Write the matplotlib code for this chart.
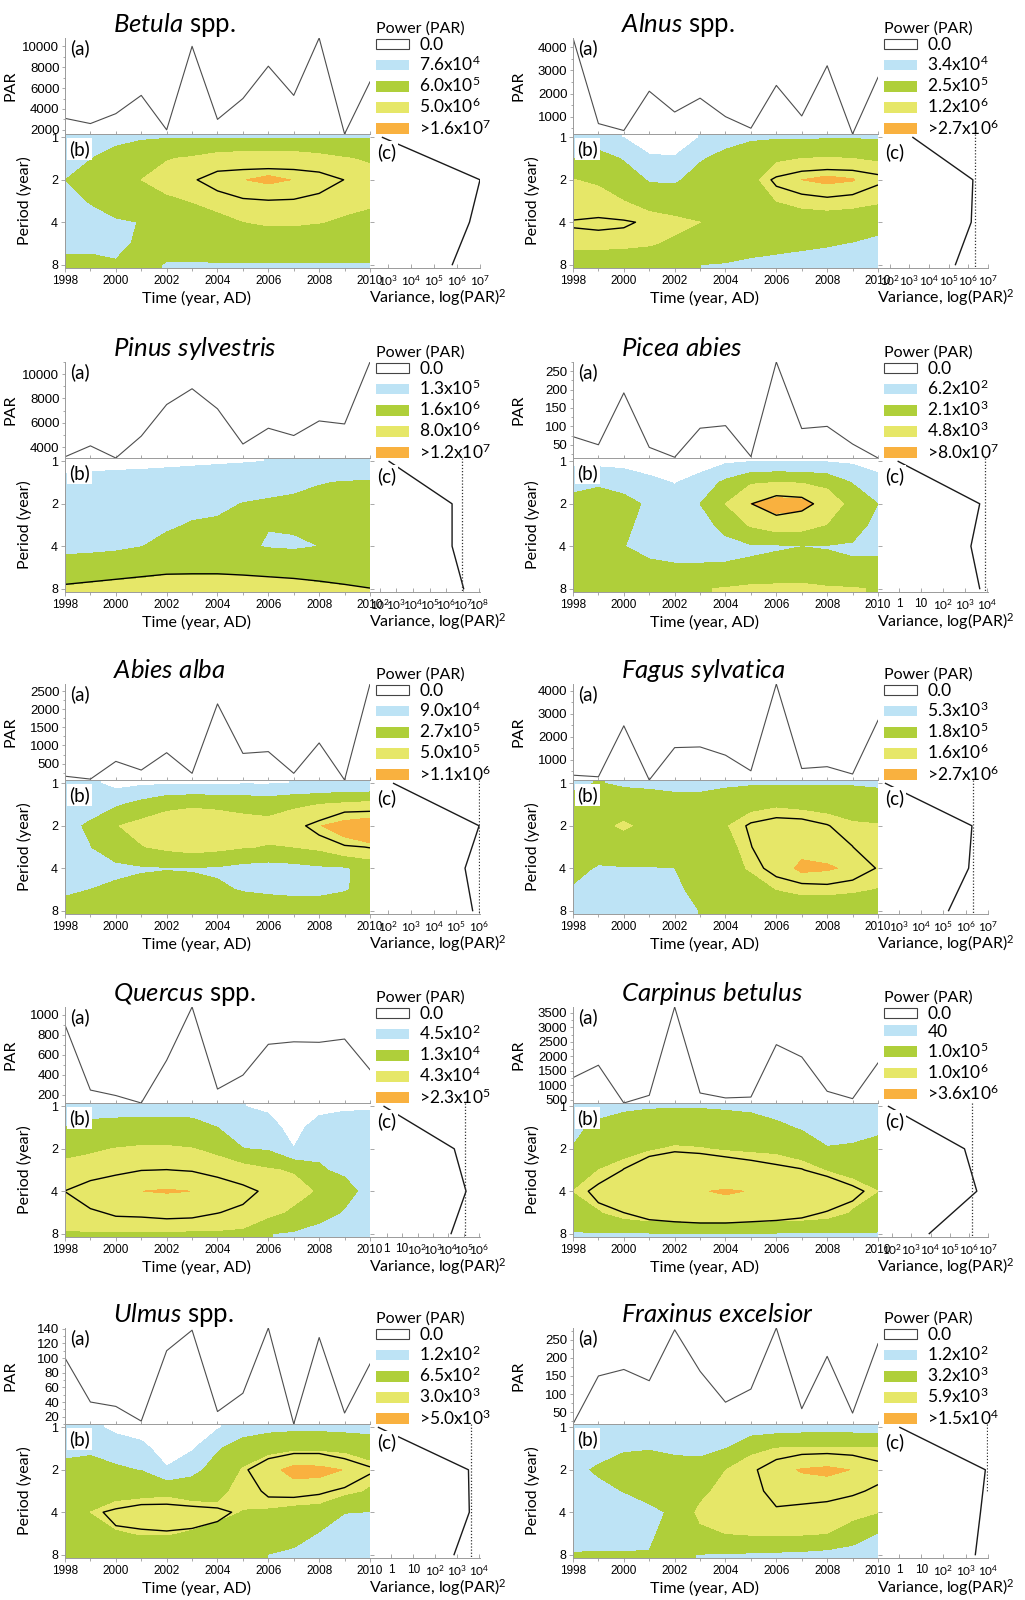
import numpy as np
import matplotlib.pyplot as plt
from matplotlib.patches import Patch
from matplotlib.ticker import AutoMinorLocator, NullFormatter

plt.rcParams['font.family'] = ['Lato', 'DejaVu Sans']
plt.rcParams['mathtext.fontset'] = 'custom'
plt.rcParams['mathtext.rm'] = 'Lato'
plt.rcParams['mathtext.it'] = 'Lato:italic'
plt.rcParams['mathtext.bf'] = 'Lato:bold'

years = np.arange(1998, 2011)
periods = [1, 1.41, 2, 2.83, 4, 5.66, 8]   # rows of the power grids
var_periods = [1, 2, 4, 8]                 # periods of the global variance curve

BLUE, GREEN, YELLOW, ORANGE = '#bde3f5', '#afcf3a', '#e6e768', '#f9b13f'

# ---------------- Betula ----------------
betula_par = [3100, 2600, 3550, 5300, 2000, 10000, 3000, 5000, 8100, 5300, 10800, 1600, 6600]
betula_power = [  # one list per year, values at periods 1..8 (level units)
    [1.5, 1.8, 1.99, 1.7, 1.6, 1.8, 2.2],
    [1.5, 1.97, 2.4, 2.05, 1.7, 1.85, 2.15],
    [1.7, 2.4, 2.7, 2.4, 1.9, 1.85, 2.05],
    [1.9, 2.6, 3.0, 2.6, 2.02, 2.1, 2.2],
    [1.95, 2.95, 3.3, 2.85, 2.5, 2.3, 1.95],
    [1.95, 3.1, 3.5, 3.02, 2.6, 2.3, 1.95],
    [1.95, 3.4, 3.75, 3.3, 2.7, 2.4, 1.95],
    [1.95, 3.5, 3.98, 3.45, 2.98, 2.5, 1.95],
    [1.95, 3.5, 4.12, 3.5, 3.1, 2.5, 1.95],
    [1.95, 3.5, 3.98, 3.55, 3.1, 2.5, 1.95],
    [1.95, 3.3, 3.75, 3.4, 3.02, 2.5, 1.95],
    [1.95, 3.05, 3.5, 3.2, 2.9, 2.5, 1.95],
    [1.95, 2.9, 3.3, 3.1, 2.8, 2.5, 1.95]]
betula_sig = [
    [0, 0, 0, 0, 0, 0, 0], [0, 0, 0, 0, 0, 0, 0], [0, 0, 0, 0, 0, 0, 0],
    [0, 0, 0, 0, 0, 0, 0], [0, 0, 0, 0, 0, 0, 0],
    [0, 0, 0.875, 0, 0, 0, 0],
    [0, 0.25, 1.5, 0.54, 0, 0, 0],
    [0, 0.13, 1.8, 0.89, 0, 0, 0],
    [0, 0.08, 2.0, 0.96, 0, 0, 0],
    [0, 0.03, 1.9, 0.92, 0, 0, 0],
    [0, 0.11, 1.5, 0.72, 0, 0, 0],
    [0, 0, 0.98, 0, 0, 0, 0],
    [0, 0, 0, 0, 0, 0, 0]]
betula_var = [590, 1.0e7, 3.5e6, 6.3e5]

# ---------------- Alnus ----------------
alnus_par = [4400, 700, 400, 2100, 1200, 1800, 1000, 500, 2350, 1030, 3200, 250, 2700]
alnus_power = [
    [1.5, 1.97, 3.02, 3.3, 3.6, 3.2, 2.5],
    [1.2, 2.5, 2.85, 3.35, 3.6, 3.2, 2.5],
    [0.98, 1.9, 2.6, 3.0, 3.4, 3.15, 2.5],
    [0.6, 1.1, 1.9, 2.7, 3.3, 3.05, 2.6],
    [0.6, 1.05, 1.85, 2.6, 3.15, 2.9, 2.02],
    [1.02, 1.9, 2.4, 2.7, 3.0, 2.6, 2.0],
    [1.6, 2.3, 2.6, 2.7, 2.8, 2.5, 1.95],
    [1.85, 2.6, 2.9, 2.8, 2.7, 2.4, 1.8],
    [1.9, 2.95, 3.2, 3.0, 2.7, 2.3, 1.7],
    [1.9, 3.0, 4.0, 3.1, 2.8, 2.2, 1.6],
    [1.92, 3.05, 4.2, 3.15, 2.8, 2.1, 1.5],
    [1.92, 3.0, 4.05, 3.15, 2.7, 1.95, 1.4],
    [1.92, 2.9, 3.5, 3.1, 2.3, 1.8, 1.3]]
alnus_sig = [
    [0, 0, 0, 0, 1.11, 0.69, 0],
    [0, 0, 0, 0, 1.28, 0.54, 0],
    [0, 0, 0, 0, 1.11, 0.69, 0],
    [0, 0, 0, 0, 0.87, 0, 0],
    [0, 0, 0, 0, 0, 0, 0], [0, 0, 0, 0, 0, 0, 0], [0, 0, 0, 0, 0, 0, 0],
    [0, 0, 0.4, 0, 0, 0, 0],
    [0, 0, 1.16, 0.63, 0, 0, 0],
    [0, 0, 1.67, 0.68, 0, 0, 0],
    [0, 0, 1.92, 0.8, 0, 0, 0],
    [0, 0, 1.79, 0.66, 0, 0, 0],
    [0, 0, 1.32, 0, 0, 0, 0]]
alnus_var = [1.5e3, 1.7e6, 1.4e6, 2.2e5]

# ---------------- Pinus sylvestris ----------------
pinus_par = [3200, 4100, 3100, 4900, 7500, 8800, 7150, 4250, 5550, 4950, 6150, 5900, 11000]
pinus_power = [
    [0.6, 1.3, 1.5, 1.6, 1.8, 2.3, 3.1],
    [0.65, 1.35, 1.5, 1.65, 1.8, 2.4, 3.2],
    [0.7, 1.4, 1.55, 1.7, 1.85, 2.5, 3.3],
    [0.75, 1.4, 1.6, 1.8, 1.98, 2.55, 3.4],
    [0.8, 1.45, 1.7, 1.9, 2.2, 2.7, 3.5],
    [0.85, 1.5, 1.8, 2.05, 2.3, 2.7, 3.5],
    [0.9, 1.55, 1.85, 2.1, 2.4, 2.7, 3.5],
    [0.95, 1.6, 2.02, 2.3, 2.1, 2.7, 3.5],
    [1.01, 1.7, 2.1, 2.02, 1.95, 2.6, 3.5],
    [1.01, 1.75, 2.2, 2.08, 1.9, 2.55, 3.4],
    [1.05, 1.95, 2.3, 2.2, 2.0, 2.45, 3.2],
    [1.05, 2.05, 2.4, 2.3, 2.2, 2.4, 3.1],
    [1.1, 2.1, 2.5, 2.4, 2.3, 2.4, 3.0]]
pinus_sig = [
    [0, 0, 0, 0, 0, 0.8, 1.05],
    [0, 0, 0, 0, 0, 0.8, 1.094],
    [0, 0, 0, 0, 0, 0.8, 1.157],
    [0, 0, 0, 0, 0, 0.8, 1.255],
    [0, 0, 0, 0, 0, 0.8, 1.425],
    [0, 0, 0, 0, 0, 0.8, 1.467],
    [0, 0, 0, 0, 0, 0.8, 1.467],
    [0, 0, 0, 0, 0, 0.8, 1.356],
    [0, 0, 0, 0, 0, 0.8, 1.255],
    [0, 0, 0, 0, 0, 0.8, 1.185],
    [0, 0, 0, 0, 0, 0.8, 1.11],
    [0, 0, 0, 0, 0, 0.8, 1.05],
    [0, 0, 0, 0, 0, 0.8, 1.005]]
pinus_var = [360, 2.3e6, 2.3e6, 1.15e7]

# ---------------- Picea abies ----------------
picea_par = [72, 50, 191, 43, 16, 95, 102, 18, 275, 94, 100, 52, 14]
picea_power = [
    [0.8, 1.6, 2.4, 2.6, 2.6, 2.6, 2.6],
    [0.7, 1.85, 2.5, 2.6, 2.6, 2.6, 2.6],
    [0.6, 1.75, 2.2, 2.15, 2.02, 2.3, 2.6],
    [0.4, 1.3, 1.9, 1.74, 1.7, 2.2, 2.6],
    [0.2, 0.95, 1.5, 1.5, 1.6, 2.1, 2.5],
    [0.5, 1.4, 2.0, 1.6, 1.6, 2.1, 2.95],
    [0.85, 2.2, 3.0, 2.3, 1.7, 2.1, 3.05],
    [0.98, 2.9, 4.0, 3.1, 1.9, 2.1, 3.2],
    [1.0, 3.0, 4.4, 3.5, 1.9, 2.3, 3.2],
    [1.0, 2.95, 4.3, 3.4, 1.99, 2.4, 3.2],
    [0.95, 2.7, 3.65, 2.95, 1.96, 2.2, 3.1],
    [0.85, 1.95, 2.63, 2.4, 1.9, 2.1, 3.05],
    [0.4, 1.5, 2.0, 1.7, 1.8, 2.2, 2.95]]
picea_sig = [
    [0, 0, 0, 0, 0, 0, 0], [0, 0, 0, 0, 0, 0, 0], [0, 0, 0, 0, 0, 0, 0],
    [0, 0, 0, 0, 0, 0, 0], [0, 0, 0, 0, 0, 0, 0], [0, 0, 0, 0, 0, 0, 0],
    [0, 0, 0, 0, 0, 0, 0],
    [0, 0, 0.98, 0, 0, 0, 0],
    [0, 0, 1.61, 0.48, 0, 0, 0],
    [0, 0, 1.43, 0.17, 0, 0, 0],
    [0, 0, 0.5, 0, 0, 0, 0],
    [0, 0, 0, 0, 0, 0, 0], [0, 0, 0, 0, 0, 0, 0]]
picea_var = [0.9, 4.8e3, 1.9e3, 4.8e3]

# ---------------- Abies alba ----------------
abies_par = [150, 70, 560, 320, 800, 230, 2150, 780, 830, 230, 1070, 45, 2700]
abies_power = [
    [1.3, 1.6, 1.8, 1.7, 1.7, 1.85, 2.3],
    [1.2, 1.7, 2.1, 1.98, 1.7, 2.0, 2.3],
    [0.7, 1.85, 2.95, 2.5, 1.8, 2.15, 2.4],
    [0.85, 2.3, 3.3, 2.95, 1.9, 2.3, 2.5],
    [0.9, 2.8, 3.4, 3.2, 1.95, 2.4, 2.5],
    [0.92, 2.9, 3.45, 3.4, 1.95, 2.2, 2.45],
    [0.92, 2.85, 3.4, 3.25, 1.9, 2.1, 2.4],
    [0.95, 2.75, 3.3, 3.05, 1.7, 1.95, 2.4],
    [0.95, 2.6, 3.3, 2.95, 1.6, 1.9, 2.3],
    [1.01, 2.85, 3.5, 3.0, 1.7, 1.85, 2.3],
    [1.05, 3.0, 3.97, 3.2, 1.85, 1.85, 2.3],
    [1.15, 3.15, 4.27, 3.75, 1.9, 1.95, 2.4],
    [1.1, 3.3, 4.4, 3.9, 2.3, 2.2, 2.5]]
abies_sig = [
    [0, 0, 0, 0, 0, 0, 0], [0, 0, 0, 0, 0, 0, 0], [0, 0, 0, 0, 0, 0, 0],
    [0, 0, 0, 0, 0, 0, 0], [0, 0, 0, 0, 0, 0, 0], [0, 0, 0, 0, 0, 0, 0],
    [0, 0, 0, 0, 0, 0, 0], [0, 0, 0, 0, 0, 0, 0], [0, 0, 0, 0, 0, 0, 0],
    [0, 0, 0.72, 0, 0, 0, 0],
    [0, 0, 1.32, 0.59, 0, 0, 0],
    [0, 0, 2.78, 0.85, 0, 0, 0],
    [0, 0, 3.1, 1.04, 0, 0, 0]]
abies_var = [170, 1.0e6, 2.4e5, 5.2e5]

# ---------------- Fagus sylvatica ----------------
fagus_par = [330, 260, 2480, 120, 1530, 1560, 1200, 520, 4300, 620, 700, 380, 2720]
fagus_power = [
    [1.8, 2.3, 2.5, 2.5, 2.3, 1.9, 1.5],
    [2.05, 2.4, 2.8, 2.5, 1.9, 1.7, 1.5],
    [1.85, 2.6, 3.1, 2.6, 1.95, 1.7, 1.5],
    [1.8, 2.5, 2.8, 2.6, 1.95, 1.7, 1.5],
    [1.7, 2.4, 2.7, 2.6, 1.99, 1.8, 1.6],
    [1.7, 2.4, 2.75, 2.7, 2.5, 2.3, 2.02],
    [1.85, 2.5, 2.95, 2.8, 2.6, 2.4, 2.1],
    [1.9, 2.8, 3.33, 3.2, 3.1, 2.5, 2.1],
    [1.92, 2.9, 3.5, 3.6, 3.5, 3.0, 2.3],
    [1.92, 2.85, 3.4, 3.7, 4.2, 3.2, 2.4],
    [1.92, 2.75, 3.3, 3.6, 4.1, 3.2, 2.4],
    [1.92, 2.6, 3.1, 3.5, 3.85, 3.1, 2.4],
    [1.85, 2.5, 3.05, 3.3, 3.5, 2.95, 2.3]]
fagus_sig = [
    [0, 0, 0, 0, 0, 0, 0], [0, 0, 0, 0, 0, 0, 0], [0, 0, 0, 0, 0, 0, 0],
    [0, 0, 0, 0, 0, 0, 0], [0, 0, 0, 0, 0, 0, 0], [0, 0, 0, 0, 0, 0, 0],
    [0, 0, 0.36, 0, 0, 0, 0],
    [0, 0, 1.16, 0.965, 0.33, 0, 0],
    [0, 0, 1.61, 1.8, 1.67, 0, 0],
    [0, 0, 1.47, 1.7, 1.8, 0.69, 0],
    [0, 0, 1.06, 1.6, 1.8, 0.75, 0],
    [0, 0, 0.5, 1.02, 1.64, 0.5, 0],
    [0, 0, 0, 0, 0.93, 0, 0]]
fagus_var = [250, 1.9e6, 1.35e6, 1.7e5]

# ---------------- Quercus ----------------
quercus_par = [900, 245, 190, 115, 545, 1080, 255, 395, 705, 730, 725, 758, 450]
quercus_power = [
    [1.4, 2.0, 2.8, 3.2, 3.7, 3.3, 2.95],
    [1.5, 2.3, 2.9, 3.3, 3.75, 3.4, 2.95],
    [1.5, 2.4, 3.02, 3.4, 3.8, 3.4, 2.95],
    [1.5, 2.45, 3.1, 3.45, 3.995, 3.45, 2.95],
    [1.5, 2.45, 3.1, 3.5, 4.05, 3.5, 2.95],
    [1.5, 2.4, 3.02, 3.45, 3.995, 3.45, 2.93],
    [1.4, 2.0, 2.85, 3.3, 3.8, 3.4, 2.93],
    [1.02, 1.5, 2.02, 3.4, 3.7, 3.3, 2.9],
    [0.8, 1.4, 1.9, 3.1, 3.5, 3.3, 2.02],
    [0.3, 0.6, 1.02, 2.9, 3.4, 2.8, 1.9],
    [0.6, 1.5, 1.8, 2.1, 2.87, 2.5, 1.5],
    [0.85, 1.5, 1.7, 1.8, 2.4, 1.9, 1.4],
    [0.9, 1.4, 1.5, 1.5, 1.6, 1.4, 1.3]]
quercus_sig = [
    [0, 0, 0, 0, 1.02, 0, 0],
    [0, 0, 0, 0, 2.0, 0.78, 0],
    [0, 0, 0, 0.684, 2.0, 1.22, 0],
    [0, 0, 0, 0.976, 2.2, 1.28, 0],
    [0, 0, 0, 1.02, 2.3, 1.43, 0],
    [0, 0, 0, 0.923, 2.2, 1.35, 0],
    [0, 0, 0, 0.485, 2.0, 1.04, 0],
    [0, 0, 0, 0, 1.43, 0.74, 0],
    [0, 0, 0, 0, 0.71, 0, 0],
    [0, 0, 0, 0, 0, 0, 0], [0, 0, 0, 0, 0, 0, 0], [0, 0, 0, 0, 0, 0, 0],
    [0, 0, 0, 0, 0, 0, 0]]
quercus_var = [0.68, 2.4e4, 1.4e5, 1.5e4]

# ---------------- Carpinus betulus ----------------
carpinus_par = [1260, 1690, 385, 650, 3700, 730, 560, 590, 2400, 1975, 790, 535, 1770]
carpinus_power = [
    [1.4, 1.7, 2.05, 2.5, 3.0, 2.5, 1.95],
    [1.5, 2.3, 2.6, 3.0, 3.5, 2.9, 1.95],
    [1.8, 2.5, 2.8, 3.2, 3.6, 3.4, 1.95],
    [1.9, 2.65, 2.95, 3.4, 3.8, 3.7, 1.95],
    [1.92, 2.7, 3.05, 3.5, 3.9, 3.7, 1.95],
    [1.92, 2.7, 3.02, 3.5, 3.97, 3.75, 1.95],
    [1.85, 2.65, 2.95, 3.5, 4.05, 3.75, 1.95],
    [1.75, 2.55, 2.9, 3.45, 3.98, 3.75, 1.95],
    [1.6, 2.2, 2.85, 3.4, 3.9, 3.7, 1.95],
    [1.4, 1.9, 2.6, 3.3, 3.8, 3.6, 1.95],
    [1.3, 1.6, 2.05, 2.95, 3.7, 3.4, 1.95],
    [1.3, 1.7, 2.1, 2.7, 3.4, 2.9, 1.95],
    [1.4, 1.8, 2.3, 2.6, 3.0, 2.6, 1.95]]
carpinus_sig = [
    [0, 0, 0, 0, 0.22, 0, 0],
    [0, 0, 0, 0, 1.52, 0.56, 0],
    [0, 0, 0, 1.06, 2.0, 1.01, 0],
    [0, 0, 0, 2.78, 2.0, 1.52, 0],
    [0, 0, 0.756, 2.5, 2.0, 1.79, 0],
    [0, 0, 0.577, 2.5, 2.0, 2.0, 0],
    [0, 0, 0.08, 2.5, 2.0, 2.0, 0],
    [0, 0, 0, 1.85, 2.0, 1.79, 0],
    [0, 0, 0, 1.35, 2.0, 1.61, 0],
    [0, 0, 0, 1.06, 2.0, 1.35, 0],
    [0, 0, 0, 0.5, 2.17, 0.925, 0],
    [0, 0, 0, 0, 1.35, 0.59, 0],
    [0, 0, 0, 0, 0.57, 0, 0]]
carpinus_var = [63, 5.9e5, 2.6e6, 8.5e3]

# ---------------- Ulmus ----------------
ulmus_par = [100, 40, 34, 14, 110, 138, 27, 52, 141, 10, 128, 25, 92]
ulmus_power = [
    [1.4, 1.8, 2.2, 2.4, 2.6, 2.5, 2.3],
    [1.3, 1.85, 2.3, 2.6, 3.0, 2.7, 2.3],
    [0.7, 1.7, 2.1, 2.6, 3.4, 2.9, 2.3],
    [0.5, 1.3, 1.97, 2.7, 3.5, 3.05, 2.3],
    [0.2, 0.5, 1.1, 2.8, 3.5, 3.05, 2.3],
    [0.4, 0.9, 1.7, 2.6, 3.4, 2.9, 2.3],
    [0.9, 1.9, 2.4, 2.75, 3.2, 2.7, 2.3],
    [1.5, 2.5, 3.05, 3.3, 2.95, 2.6, 2.2],
    [1.75, 2.65, 3.7, 3.4, 2.9, 2.4, 1.99],
    [1.8, 2.8, 4.3, 3.6, 2.7, 2.4, 1.8],
    [1.8, 2.8, 4.25, 3.55, 2.6, 1.95, 1.5],
    [1.75, 2.7, 3.97, 3.2, 2.02, 1.6, 1.4],
    [1.7, 2.55, 3.3, 2.9, 1.98, 1.5, 1.3]]
ulmus_sig = [
    [0, 0, 0, 0, 0, 0, 0],
    [0, 0, 0, 0, 0.81, 0, 0],
    [0, 0, 0, 0, 1.19, 0.89, 0],
    [0, 0, 0, 0, 1.56, 0.86, 0],
    [0, 0, 0, 0, 1.61, 0.92, 0],
    [0, 0, 0, 0, 1.39, 0.88, 0],
    [0, 0, 0, 0, 1.25, 0.68, 0],
    [0, 0, 0.73, 0, 0.80, 0, 0],
    [0, 0, 2.08, 1.39, 0, 0, 0],
    [0, 0.53, 2.5, 1.43, 0, 0, 0],
    [0, 0.53, 2.5, 1.19, 0, 0, 0],
    [0, 0, 2.08, 0.79, 0, 0, 0],
    [0, 0, 1.16, 0.36, 0, 0, 0]]
ulmus_var = [0.26, 3.2e3, 3.5e3, 710]

# ---------------- Fraxinus excelsior ----------------
fraxinus_par = [18, 150, 168, 137, 277, 163, 78, 114, 282, 60, 204, 48, 239]
fraxinus_power = [
    [1.5, 1.6, 1.8, 1.6, 1.5, 1.6, 2.05],
    [1.5, 1.7, 2.1, 1.8, 1.6, 1.7, 2.05],
    [1.5, 1.9, 2.4, 2.02, 1.6, 1.7, 2.05],
    [1.5, 1.95, 2.5, 2.3, 1.8, 1.8, 2.05],
    [1.5, 1.85, 2.3, 2.3, 2.13, 2.51, 2.1],
    [1.5, 1.8, 2.3, 2.7, 3.22, 2.8, 1.98],
    [1.6, 1.98, 2.98, 3.4, 3.5, 3.0, 1.95],
    [1.5, 2.7, 3.6, 3.6, 3.6, 3.1, 1.9],
    [1.55, 3.02, 3.8, 3.7, 3.6, 3.15, 1.85],
    [1.6, 3.1, 4.05, 3.7, 3.5, 3.1, 1.8],
    [1.6, 3.1, 4.15, 3.65, 3.4, 3.0, 1.7],
    [1.6, 3.1, 3.98, 3.6, 3.3, 2.5, 1.6],
    [1.55, 3.05, 3.6, 3.4, 3.02, 1.98, 1.5]]
fraxinus_sig = [
    [0, 0, 0, 0, 0, 0, 0], [0, 0, 0, 0, 0, 0, 0], [0, 0, 0, 0, 0, 0, 0],
    [0, 0, 0, 0, 0, 0, 0], [0, 0, 0, 0, 0, 0, 0], [0, 0, 0, 0, 0, 0, 0],
    [0, 0, 0, 0, 0, 0, 0],
    [0, 0, 0.69, 0, 0, 0, 0],
    [0, 0, 1.92, 2.0, 0.65, 0, 0],
    [0, 0.53, 2.2, 2.0, 0.39, 0, 0],
    [0, 0.62, 2.2, 2.0, 0, 0, 0],
    [0, 0.435, 2.2, 1.28, 0, 0, 0],
    [0, 0, 1.67, 0.71, 0, 0, 0]]
fraxinus_var = [1.1, 7.6e3, 4.6e3, 2.7e3]

panels = [
    dict(title=r'$\mathit{Betula}$ spp.', par=betula_par, yt=[2000, 4000, 6000, 8000, 10000],
         power=betula_power, sig=betula_sig, var=betula_var, vlim=(2.23, 7.0), vt=[3, 4, 5, 6, 7],
         vsig=None, vsig_t=None,
         leg=['0.0', '7.6x10$^4$', '6.0x10$^5$', '5.0x10$^6$', '>1.6x10$^7$']),
    dict(title=r'$\mathit{Alnus}$ spp.', par=alnus_par, yt=[1000, 2000, 3000, 4000],
         power=alnus_power, sig=alnus_sig, var=alnus_var, vlim=(1.4, 7.0), vt=[2, 3, 4, 5, 6, 7],
         vsig=2.3e6, vsig_t=None,
         leg=['0.0', '3.4x10$^4$', '2.5x10$^5$', '1.2x10$^6$', '>2.7x10$^6$']),
    dict(title=r'$\mathit{Pinus\ sylvestris}$', par=pinus_par, yt=[4000, 6000, 8000, 10000],
         power=pinus_power, sig=pinus_sig, var=pinus_var, vlim=(1.4, 8.05), vt=[2, 3, 4, 5, 6, 7, 8],
         vsig=9.1e6, vsig_t=None,
         leg=['0.0', '1.3x10$^5$', '1.6x10$^6$', '8.0x10$^6$', '>1.2x10$^7$']),
    dict(title=r'$\mathit{Picea\ abies}$', par=picea_par, yt=[50, 100, 150, 200, 250],
         power=picea_power, sig=picea_sig, var=picea_var, vlim=(-0.97, 4.06), vt=[0, 1, 2, 3, 4],
         vsig=8.1e3, vsig_t=None,
         leg=['0.0', '6.2x10$^2$', '2.1x10$^3$', '4.8x10$^3$', '>8.0x10$^7$']),
    dict(title=r'$\mathit{Abies\ alba}$', par=abies_par, yt=[500, 1000, 1500, 2000, 2500],
         power=abies_power, sig=abies_sig, var=abies_var, vlim=(1.19, 6.04), vt=[2, 3, 4, 5, 6],
         vsig=1.0e6, vsig_t=None,
         leg=['0.0', '9.0x10$^4$', '2.7x10$^5$', '5.0x10$^5$', '>1.1x10$^6$']),
    dict(title=r'$\mathit{Fagus\ sylvatica}$', par=fagus_par, yt=[1000, 2000, 3000, 4000],
         power=fagus_power, sig=fagus_sig, var=fagus_var, vlim=(2.06, 7.0), vt=[3, 4, 5, 6, 7],
         vsig=2.1e6, vsig_t=None,
         leg=['0.0', '5.3x10$^3$', '1.8x10$^5$', '1.6x10$^6$', '>2.7x10$^6$']),
    dict(title=r'$\mathit{Quercus}$ spp.', par=quercus_par, yt=[200, 400, 600, 800, 1000],
         power=quercus_power, sig=quercus_sig, var=quercus_var, vlim=(-1.08, 6.05), vt=[0, 1, 2, 3, 4, 5, 6],
         vsig=1.26e5, vsig_t=None,
         leg=['0.0', '4.5x10$^2$', '1.3x10$^4$', '4.3x10$^4$', '>2.3x10$^5$']),
    dict(title=r'$\mathit{Carpinus\ betulus}$', par=carpinus_par, yt=[500, 1000, 1500, 2000, 2500, 3000, 3500],
         power=carpinus_power, sig=carpinus_sig, var=carpinus_var, vlim=(1.25, 7.0), vt=[2, 3, 4, 5, 6, 7],
         vsig=1.5e6, vsig_t=None,
         leg=['0.0', '40', '1.0x10$^5$', '1.0x10$^6$', '>3.6x10$^6$']),
    dict(title=r'$\mathit{Ulmus}$ spp.', par=ulmus_par, yt=[20, 40, 60, 80, 100, 120, 140],
         power=ulmus_power, sig=ulmus_sig, var=ulmus_var, vlim=(-0.97, 4.03), vt=[0, 1, 2, 3, 4],
         vsig=4.2e3, vsig_t=None,
         leg=['0.0', '1.2x10$^2$', '6.5x10$^2$', '3.0x10$^3$', '>5.0x10$^3$']),
    dict(title=r'$\mathit{Fraxinus\ excelsior}$', par=fraxinus_par, yt=[50, 100, 150, 200, 250],
         power=fraxinus_power, sig=fraxinus_sig, var=fraxinus_var, vlim=(-0.94, 4.0), vt=[0, 1, 2, 3, 4],
         vsig=9.1e3, vsig_t=(-0.08, 1.5),
         leg=['0.0', '1.2x10$^2$', '3.2x10$^3$', '5.9x10$^3$', '>1.5x10$^4$']),
]

W, H = 1025, 1600
fig = plt.figure(figsize=(W / 100, H / 100), dpi=100)


def fx(px):
    return px / W


def fy(py):
    return 1 - py / H


def exp_label(e):
    if e == 0:
        return '1'
    if e == 1:
        return '10'
    return r'$10^{%d}$' % e


row_tops = [0, 324, 646, 969, 1290]
col_lefts = [65, 573]
BW, CW = 305, 110
GREY = '#9a9a9a'
TICKFONT = 'Liberation Sans'

T = np.log2(periods)
T_pad = np.concatenate([[-0.15], T, [3.15]])
T_var = np.log2(var_periods)

for i, p in enumerate(panels):
    r, c = divmod(i, 2)
    top, xl = row_tops[r], col_lefts[c]

    ax_a = fig.add_axes([fx(xl), fy(top + 134), BW / W, 96 / H])
    ax_b = fig.add_axes([fx(xl), fy(top + 268), BW / W, 134 / H])
    ax_c = fig.add_axes([fx(xl + BW), fy(top + 268), CW / W, 134 / H])

    # (a) PAR series
    ax_a.plot(years, p['par'], color='#4d4d4d', lw=0.8)
    ax_a.set_xlim(1998, 2010)
    ax_a.set_ylim(min(p['par']), max(p['par']))
    ax_a.set_yticks(p['yt'])
    ax_a.yaxis.set_minor_locator(AutoMinorLocator(2))
    ax_a.set_xticks(years)
    ax_a.xaxis.set_major_formatter(NullFormatter())
    for s in ('top', 'right'):
        ax_a.spines[s].set_visible(False)
    for s in ('left', 'bottom'):
        ax_a.spines[s].set_color(GREY)
        ax_a.spines[s].set_linewidth(0.7)
    ax_a.tick_params(axis='x', direction='in', length=2.5, color=GREY, width=0.6)
    ax_a.tick_params(axis='y', which='both', labelsize=9.5, length=2.5, color=GREY, width=0.6, pad=1.5)
    ax_a.tick_params(axis='y', which='minor', length=1.5)
    ax_a.set_ylabel('PAR', fontsize=11.5)
    ax_a.yaxis.set_label_coords(-47 / BW, 0.5)
    ax_a.patch.set_alpha(0)

    # (b) wavelet power
    Z = np.array(p['power']).T
    Z = np.vstack([Z[:1], Z, Z[-1:]])
    S = np.array(p['sig']).T
    S = np.vstack([S[:1], S, S[-1:]])
    ax_b.contourf(years, T_pad, Z, levels=[-1, 1, 2, 3, 4, 10],
                  colors=['white', BLUE, GREEN, YELLOW, ORANGE])
    ax_b.contour(years, T_pad, S, levels=[1], colors='black', linewidths=1.0)
    ax_b.set_xlim(1998, 2010)
    ax_b.set_ylim(3.08, -0.08)
    ax_b.set_yticks([0, 1, 2, 3])
    ax_b.set_yticklabels(['1', '2', '4', '8'])
    ax_b.set_xticks(range(1998, 2011, 2))
    ax_b.set_xticks(years, minor=True)
    ax_b.spines['right'].set_visible(False)
    for s in ('left', 'bottom', 'top'):
        ax_b.spines[s].set_color(GREY)
        ax_b.spines[s].set_linewidth(0.7)
    ax_b.tick_params(axis='both', which='both', color=GREY, width=0.6, labelsize=8.5)
    ax_b.tick_params(axis='x', which='major', length=3, pad=2)
    ax_b.tick_params(axis='x', which='minor', length=2)
    ax_b.tick_params(axis='y', length=3, pad=2, right=True, labelsize=9)
    ax_b.set_ylabel('Period (year)', fontsize=11.5)
    ax_b.yaxis.set_label_coords(-33 / BW, 0.5)

    # (c) global variance
    ax_c.plot(p['var'], T_var, color='#1a1a1a', lw=1.0)
    if p['vsig'] is not None:
        t0, t1 = p['vsig_t'] if p['vsig_t'] else (-0.08, 3.08)
        ax_c.vlines(p['vsig'], t0, t1, colors='#333333', linestyles=(0, (1, 1.5)), lw=0.9)
    ax_c.set_xscale('log')
    ax_c.set_xlim(10 ** p['vlim'][0], 10 ** p['vlim'][1])
    ax_c.set_ylim(3.08, -0.08)
    ax_c.set_xticks([10.0 ** e for e in p['vt']])
    ax_c.set_xticklabels([exp_label(e) for e in p['vt']])
    ax_c.xaxis.set_minor_formatter(NullFormatter())
    ax_c.set_yticks([])
    for s in ('left', 'right', 'top'):
        ax_c.spines[s].set_visible(False)
    ax_c.spines['bottom'].set_color(GREY)
    ax_c.spines['bottom'].set_linewidth(0.7)
    ax_c.tick_params(axis='x', which='both', direction='in', color=GREY, width=0.6, labelsize=8.5, pad=4)
    ax_c.tick_params(axis='x', which='major', length=3)
    ax_c.tick_params(axis='x', which='minor', length=2)
    ax_c.patch.set_alpha(0)

    for ax in (ax_a, ax_b, ax_c):
        for lbl in ax.get_xticklabels() + ax.get_yticklabels():
            lbl.set_fontfamily(TICKFONT)

    # texts
    fig.text(fx(xl + 48), fy(top + 32), p['title'], fontsize=18.5, va='baseline')
    fig.text(fx(xl + 5), fy(top + 48), '(a)', fontsize=13.5, va='center')
    fig.text(fx(xl + 4), fy(top + 149), '(b)', fontsize=13.5, va='center',
             bbox=dict(boxstyle='square,pad=0.12', fc='white', ec='none'))
    fig.text(fx(xl + BW + 7), fy(top + 152), '(c)', fontsize=13.5, va='center',
             bbox=dict(boxstyle='square,pad=0.12', fc='white', ec='none'))
    fig.text(fx(xl + 131), fy(top + 298), 'Time (year, AD)', fontsize=11.5, ha='center', va='center')
    fig.text(fx(xl + BW + 68), fy(top + 298), 'Variance, log(PAR)$^2$', fontsize=11.5,
             ha='center', va='center')

    handles = [Patch(facecolor='white', edgecolor='#444444', lw=0.8)] + \
        [Patch(facecolor=col, edgecolor='none') for col in (BLUE, GREEN, YELLOW, ORANGE)]
    fig.legend(handles, p['leg'], loc='upper left', bbox_to_anchor=(fx(xl + BW + 6), fy(top + 21)),
               frameon=False, title='Power (PAR)', fontsize=12.5, title_fontsize=11.5,
               handlelength=1.9, handleheight=0.58, labelspacing=0.1, handletextpad=0.6,
               borderpad=0, borderaxespad=0, alignment='left')

fig.savefig('out.png', dpi=100)
